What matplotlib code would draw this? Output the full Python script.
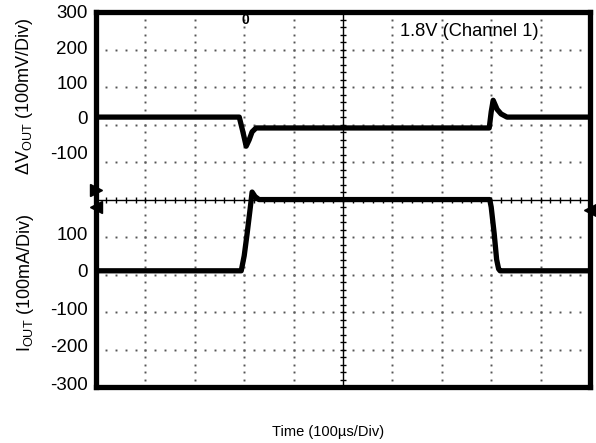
import numpy as np
import matplotlib.pyplot as plt

plt.rcParams['font.family'] = ['Liberation Sans', 'DejaVu Sans']
plt.rcParams['mathtext.default'] = 'regular'

# scope trace, ch1: output voltage deviation (mV) vs time (us)
t_v = [0, 290, 297, 304, 310, 316, 324, 500, 796, 800, 804, 812, 820, 832, 1000]
v_mv = [0, 0, -40, -83, -65, -42, -31, -31, -31, 15, 48, 22, 9, 0, 0]

# ch2: load current (mA) vs time (us)
t_i = [0, 294, 300, 306, 312, 316, 322, 330, 797, 800, 806, 811, 815, 818, 1000]
i_ma = [0, 0, 40, 100, 165, 210, 198, 190, 190, 170, 100, 30, 5, 0, 0]

v_ticks = [300, 200, 100, 0, -100]
i_ticks = [100, 0, -100, -200, -300]


# both channels share one screen of 10 x 10 divisions
def v_div(mv):
    return 7.2 + np.asarray(mv) / 107.0


def i_div(ma):
    return 3.1 + np.asarray(ma) / 100.0


fig = plt.figure(figsize=(5.96, 4.43), dpi=100)
ax = fig.add_axes([96 / 596, 1 - 387 / 443, 494 / 596, 375 / 443])
ax.set_xlim(0, 1000)
ax.set_ylim(0, 10)

# dotted graticule
for k in range(1, 10):
    if k == 5:
        continue
    ys = np.arange(0, 10.01, 0.2)
    ax.plot(np.full_like(ys, k * 100), ys, ls='none', marker='s', ms=1.4,
            color='#555555', mew=0)
    xs = np.arange(0, 1000.1, 20)
    ax.plot(xs, np.full_like(xs, k), ls='none', marker='s', ms=1.4,
            color='#555555', mew=0)

# centre cross with minor ticks
ax.axvline(500, color='black', lw=1.0)
ax.axhline(5, color='black', lw=1.0)
ys = np.arange(0.2, 10, 0.2)
ax.plot(np.full_like(ys, 500), ys, ls='none', marker='_', ms=5, mew=1.0, color='black')
xs = np.arange(20, 1000, 20)
ax.plot(xs, np.full_like(xs, 5.0), ls='none', marker='|', ms=5, mew=1.0, color='black')

# traces
ax.plot(t_v, v_div(v_mv), color='black', lw=3.8, solid_joinstyle='round')
ax.plot(t_i, i_div(i_ma), color='black', lw=3.8, solid_joinstyle='round')

# channel / trigger markers
ax.plot([0], [5.25], marker='>', ms=9, color='black', clip_on=False, zorder=5)
ax.plot([0], [4.8], marker='<', ms=9, color='black', clip_on=False, zorder=5)
ax.plot([1000], [4.72], marker='<', ms=9, color='black', clip_on=False, zorder=5)
ax.text(303, 9.8, '0', fontsize=10, fontweight='bold', ha='center', va='center')

ax.text(615, 9.48, '1.8V (Channel 1)', fontsize=13.2, ha='left', va='center')

pos = list(v_div(v_ticks)) + list(i_div(i_ticks))
labels = [str(v) for v in v_ticks] + [str(i) for i in i_ticks]
ax.set_yticks(pos, labels)
ax.set_xticks([])
ax.tick_params(axis='y', length=0, pad=6, labelsize=13.5)

for s in ax.spines.values():
    s.set_linewidth(3.8)

fig.text(25 / 596, 1 - 96 / 443, r'ΔV$_{OUT}$ (100mV/Div)', rotation=90,
         fontsize=13, ha='center', va='center')
fig.text(25 / 596, 1 - 283 / 443, r'I$_{OUT}$ (100mA/Div)', rotation=90,
         fontsize=13, ha='center', va='center')
fig.text(328 / 596, 1 - 432 / 443, 'Time (100µs/Div)', fontsize=10.5,
         ha='center', va='center')

fig.savefig('out.png', dpi=100)
